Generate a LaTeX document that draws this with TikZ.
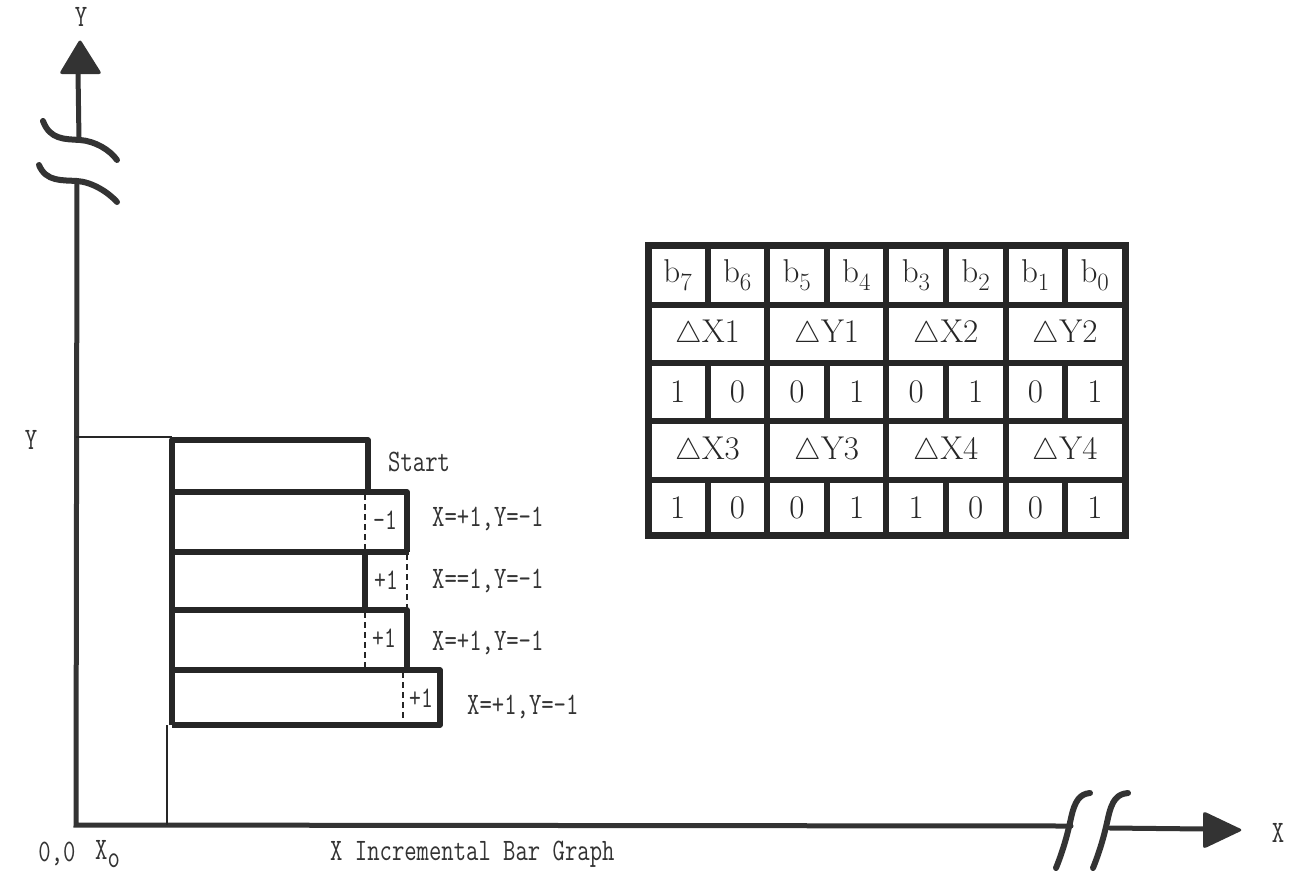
\documentclass[tikz,border=0pt]{standalone}
\usepackage{fontspec}
\setmainfont{Latin Modern Roman}
\usetikzlibrary{calc}
\newcommand{\tallt}[1]{\scalebox{1}[1.3]{#1}}
\begin{document}
\begin{tikzpicture}[x=1pt,y=-1pt,
  ax/.style={line width=5pt,draw=black!80,line cap=round},
  brk/.style={line width=6pt,draw=black!80,line cap=round},
  bar/.style={line width=5.5pt,draw=black!85,line join=round},
  thin/.style={line width=2pt,draw=black!85},
  dsh/.style={line width=1.8pt,draw=black!85,dash pattern=on 6pt off 4pt},
  lab/.style={font=\fontsize{24}{26}\ttfamily,text=black!80,inner sep=0pt},
  small/.style={font=\fontsize{23}{25}\ttfamily,text=black!80,inner sep=0pt},
  grid/.style={line width=6pt,draw=black!85},
  cell/.style={font=\fontsize{33}{35}\selectfont,text=black!85,inner sep=0pt}]
\useasboundingbox[fill=white] (0,0) rectangle (1297,873);

% ---------- axes ----------
\coordinate (yt) at (80,39);
\coordinate (yb1) at (78,72);
\coordinate (ybk1) at (79,140);
\coordinate (ybk2) at (77,181);
\coordinate (org) at (76,825);
\coordinate (xbk1) at (1071,826);
\coordinate (xbk2) at (1110,828);
\coordinate (xb) at (1205,829);
\coordinate (xt) at (1243,830);
\draw[ax] (yb1) -- (ybk1);
\draw[ax] (ybk2) -- (org) -- (xbk1);
\draw[ax] (xbk2) -- (xb);
\fill[black!80,rounded corners=3pt] (yt) -- (102,74) -- (59,74) -- cycle;
\fill[black!80,rounded corners=3pt] (xt) -- (1203,849) -- (1203,811) -- cycle;
% breaks
\draw[brk] (43,121) .. controls (50,140) and (65,139) .. (80,140) .. controls (95,141) and (110,150) .. (117,160);
\draw[brk] (39,165) .. controls (46,182) and (62,180) .. (77,181) .. controls (92,182) and (108,192) .. (117,202);
\draw[brk] (1056,868) .. controls (1064,848) and (1068,832) .. (1071,818) .. controls (1075,800) and (1080,794) .. (1090,793);
\draw[brk] (1093,868) .. controls (1101,848) and (1105,832) .. (1108,818) .. controls (1112,800) and (1117,794) .. (1128,793);

% axis labels
\node[lab] (ylab) at (81,17) {\tallt{Y}};
\node[lab] (ylab2) at (31,440) {\tallt{Y}};
\node[lab] (xlab) at (1278,833) {\tallt{X}};
\node[lab] (o) at (57,854) {\tallt{0,0}};
\node[lab,anchor=west] (xo) at (95,854) {\tallt{X\raisebox{-0.55ex}{o}}};
\node[lab,anchor=west] (cap) at (330,854) {\tallt{X Incremental Bar Graph}};

% ---------- bars ----------
\draw[thin] (org |- 0,437) -- (172,437);
\draw[thin] (167,725) -- (167,825);
\draw[bar] (172,725) -- (172,440) -- (368,440) -- (368,492);
\draw[bar] (172,492) -- (407,492) -- (407,552);
\draw[bar] (172,552) -- (409,552);
\draw[bar] (365,552) -- (365,610);
\draw[bar] (172,610) -- (407,610) -- (407,670);
\draw[bar] (172,670) -- (440,670) -- (440,725) -- (172,725);
\draw[dsh] (365,494) -- (365,550);
\draw[dsh] (407,554) -- (407,608);
\draw[dsh] (365,612) -- (365,668);
\draw[dsh] (403,672) -- (403,723);
\node[small] (m1) at (385,520) {\tallt{-1}};
\node[small] (p1) at (386,580) {\tallt{+1}};
\node[small] (p2) at (384,638) {\tallt{+1}};
\node[small] (p3) at (421,698) {\tallt{+1}};
\node[lab,anchor=west] (st) at (388,462) {\tallt{Start}};
\node[lab,anchor=west] (l1) at (432,519) {\tallt{X=+1,Y=-1}};
\node[lab,anchor=west] (l2) at (432,581) {\tallt{X==1,Y=-1}};
\node[lab,anchor=west] (l3) at (432,643) {\tallt{X=+1,Y=-1}};
\node[lab,anchor=west] (l4) at (467,707) {\tallt{X=+1,Y=-1}};

% ---------- table ----------
\draw[grid,line width=7pt] (648,245) rectangle (1125,535);
\foreach \yy in {305,363,421,480} \draw[grid] (648,\yy) -- (1125,\yy);
\foreach \i in {1,...,7} {
  \draw[grid] ({648+\i*59.6},245) -- ({648+\i*59.6},305);
  \draw[grid] ({648+\i*59.6},363) -- ({648+\i*59.6},421);
  \draw[grid] ({648+\i*59.6},480) -- ({648+\i*59.6},535);
}
\foreach \i in {2,4,6} {
  \draw[grid] ({648+\i*59.6},305) -- ({648+\i*59.6},363);
  \draw[grid] ({648+\i*59.6},421) -- ({648+\i*59.6},480);
}
\foreach \b [count=\i from 0] in {7,6,5,4,3,2,1,0}
  \node[cell] (b\b) at ({648+(\i+0.5)*59.6},275) {$\mathrm{b}_{\b}$};
\foreach \t [count=\i from 0] in {X1,Y1,X2,Y2}
  \node[cell] (d\i) at ({648+(2*\i+1)*59.6},334) {\scalebox{1.2}{$\bigtriangleup$}\t};
\foreach \t [count=\i from 0] in {X3,Y3,X4,Y4}
  \node[cell] (e\i) at ({648+(2*\i+1)*59.6},451) {\scalebox{1.2}{$\bigtriangleup$}\t};
\foreach \v [count=\i from 0] in {1,0,0,1,0,1,0,1}
  \node[cell] (r\i) at ({648+(\i+0.5)*59.6},392) {\v};
\foreach \v [count=\i from 0] in {1,0,0,1,1,0,0,1}
  \node[cell] (s\i) at ({648+(\i+0.5)*59.6},508) {\v};
\end{tikzpicture}
\end{document}
